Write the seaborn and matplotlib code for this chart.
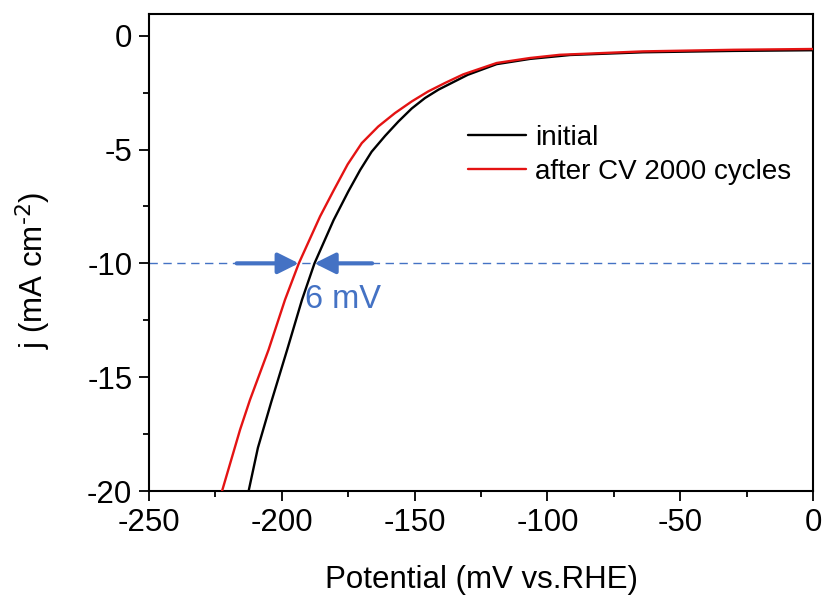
import numpy as np
import pandas as pd
import matplotlib
matplotlib.use("Agg")
import matplotlib.pyplot as plt
import seaborn as sns
from matplotlib.ticker import MultipleLocator

# Polarization curves (potential in mV vs. RHE, current density in mA cm^-2)
potential_initial = [-212.5, -209.0, -204.0, -198.0, -192.4, -187.7, -180.5, -175.0, -170.5, -166.2,
                     -161.1, -156.1, -151.1, -146.1, -141.0, -136.1, -130.0, -119.1, -106.5, -91.5,
                     -64, -30, 0]
j_initial = [-20.0, -18.1, -16.1, -13.8, -11.6, -10.0, -8.1, -6.85, -5.9, -5.1,
             -4.40, -3.77, -3.20, -2.74, -2.37, -2.08, -1.72, -1.25, -1.02, -0.85,
             -0.73, -0.67, -0.64]

potential_cycled = [-222.5, -215.7, -212.0, -205.0, -198.8, -193.6, -185.6, -180.5, -175.2, -169.9,
                    -163.7, -157.4, -151.1, -144.9, -138.6, -131.7, -119.1, -106.5, -95.3,
                    -64, -30, 0]
j_cycled = [-20.0, -17.3, -16.0, -13.8, -11.6, -10.0, -7.94, -6.8, -5.65, -4.72,
            -3.99, -3.40, -2.89, -2.45, -2.08, -1.70, -1.20, -0.98, -0.84,
            -0.69, -0.62, -0.585]

series_names = ["initial", "after CV 2000 cycles"]
series_colors = ["black", "#e41313"]

j_ref = -10
shift_label = "6 mV"
eta_initial = -187.7
eta_cycled = -193.6

df = pd.concat([
    pd.DataFrame({"potential": potential_initial, "j": j_initial, "sample": series_names[0]}),
    pd.DataFrame({"potential": potential_cycled, "j": j_cycled, "sample": series_names[1]}),
], ignore_index=True)

sns.set_style("ticks")
plt.rcParams["font.family"] = ["Liberation Sans", "DejaVu Sans"]
plt.rcParams["axes.unicode_minus"] = False
plt.rcParams["mathtext.default"] = "regular"

fig = plt.figure(figsize=(8.26, 6.05), dpi=100)
ax = fig.add_axes([0.1804, 0.1884, 0.8039, 0.7884])

blue = "#4472C4"
ax.axhline(j_ref, color=blue, lw=1.0, ls=(0, (6, 4)), zorder=1)

sns.lineplot(data=df, x="potential", y="j", hue="sample", palette=dict(zip(series_names, series_colors)),
             sort=False, estimator=None, lw=1.7, ax=ax, zorder=3)

arrow_kw = dict(arrowstyle="-|>,head_length=0.9,head_width=0.45", color=blue, lw=3.0,
                shrinkA=0, shrinkB=0, mutation_scale=14)
ax.annotate("", xy=(eta_cycled, j_ref), xytext=(-217, j_ref), arrowprops=arrow_kw, zorder=4)
ax.annotate("", xy=(eta_initial, j_ref), xytext=(-166, j_ref), arrowprops=arrow_kw, zorder=4)
ax.text(-176.8, -11.6, shift_label, color=blue, fontsize=23.5, ha="center", va="center")

ax.set_xlim(-250, 0)
ax.set_ylim(-20, 0.95)
ax.xaxis.set_major_locator(MultipleLocator(50))
ax.xaxis.set_minor_locator(MultipleLocator(25))
ax.yaxis.set_major_locator(MultipleLocator(5))
ax.yaxis.set_minor_locator(MultipleLocator(2.5))
ax.tick_params(which="major", direction="out", length=7, width=1.3, labelsize=22.5, pad=5,
               top=False, right=False, colors="black")
ax.tick_params(which="minor", direction="out", length=4, width=1.3, top=False, right=False,
               colors="black")
for s in ax.spines.values():
    s.set_linewidth(1.5)
    s.set_color("black")

ax.set_xlabel("Potential (mV vs.RHE)", fontsize=22.5, labelpad=20, color="black")
ax.set_ylabel(r"j (mA cm$^{\text{-2}}$)", fontsize=22.5, color="black")
ax.yaxis.set_label_coords(-0.144, 0.463)

ax.legend(loc="upper left", bbox_to_anchor=(0.4804, 0.768), frameon=False, fontsize=20,
          handlelength=2.1, handletextpad=0.3, labelspacing=0.3, borderaxespad=0, borderpad=0,
          labelcolor="black")

fig.savefig("out.png", dpi=100)
